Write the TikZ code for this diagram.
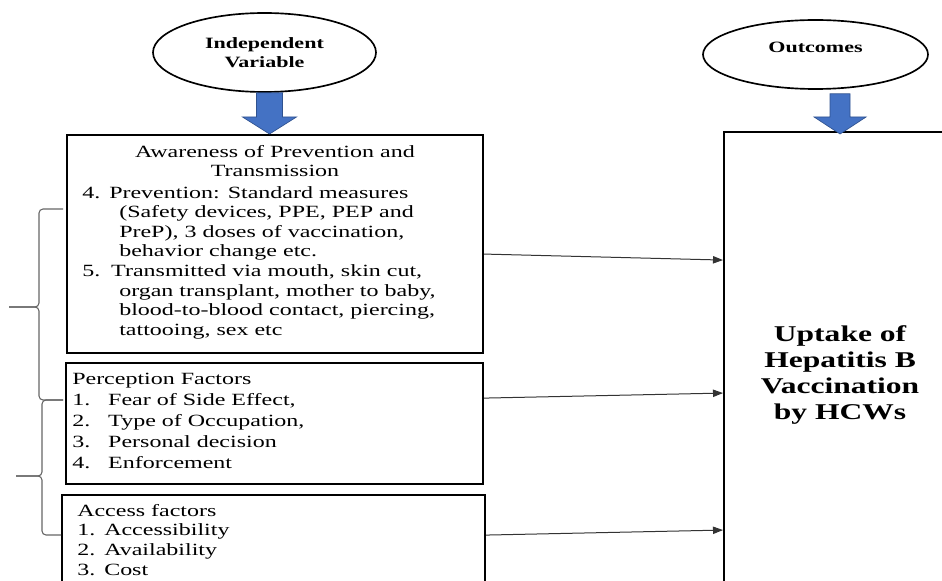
\documentclass[tikz,border=0pt]{standalone}
\usepackage{fontspec}
\setmainfont{Liberation Serif}[FakeStretch=1.4]
\usetikzlibrary{arrows.meta, calc, shapes.geometric}

\newcommand{\numlbl}[2]{\makebox[#1][l]{#2}}

\begin{document}
\begin{tikzpicture}[
    x=0.75pt, y=-0.75pt,
    every node/.style={inner sep=0pt, text=black},
    oval/.style={ellipse, draw=black, line width=1.25pt,
                 font=\bfseries\fontsize{11.8}{14.25}\selectfont, align=center},
    frame/.style={draw=black, line width=1.6pt, anchor=north west},
    listtext/.style={anchor=north west, align=left,
                     font=\fontsize{12.85}{14.7}\selectfont},
    link/.style={-{Triangle[length=7.5pt, width=5.5pt]}, line width=0.75pt, draw=black!80},
    bracket/.style={draw=black!60, line width=0.8pt, rounded corners=3pt},
]

\definecolor{blockfill}{HTML}{4472C4}
\definecolor{blockline}{HTML}{2F528F}

\def\ind{27.75pt}   % hanging indent of the wrapped items

\useasboundingbox (0,0) rectangle (942,581);
\clip (0,0) rectangle (942,581);

% ---------------------------------------------------------------- ovals
\node[oval, minimum width=167.25pt, minimum height=59.25pt] (indep)
    at (264.5,52.5) {Independent\\Variable};
\node[oval, minimum width=168.75pt, minimum height=51.75pt,
      text depth=11.25pt] (outcome) at (815.5,54.5) {Outcomes};

% ---------------------------------------------------------------- boxes
\node[frame, minimum width=312pt, minimum height=163.5pt] (aware) at (66,134) {};
\node[frame, minimum width=312.75pt, minimum height=90.75pt] (percep) at (65,362) {};
\node[frame, minimum width=317.25pt, minimum height=79.5pt] (access) at (61,494) {};

% the outcome box runs off the page at the right and at the bottom
\node[frame, minimum width=174pt, minimum height=364.5pt, align=center,
      font=\bfseries\fontsize{16.9}{19.3}\selectfont] (uptake) at (723,131)
    {Uptake of\\Hepatitis B\\Vaccination\\by HCWs};

% ---------------------------------------------------------------- box texts
\node[listtext, anchor=north, align=center] (awhead) at (275,145)
    {Awareness of Prevention and\\Transmission};
\node[listtext] (awlist) at (82,186)
    {\numlbl{20.25pt}{4.}Prevention: Standard measures\\
     \hspace*{\ind}(Safety devices, PPE, PEP and\\
     \hspace*{\ind}PreP), 3 doses of vaccination,\\
     \hspace*{\ind}behavior change etc.\\
     \numlbl{21.75pt}{5.}Transmitted via mouth, skin cut,\\
     \hspace*{\ind}organ transplant, mother to baby,\\
     \hspace*{\ind}blood-to-blood contact, piercing,\\
     \hspace*{\ind}tattooing, sex etc};

\node[listtext, font=\fontsize{12.85}{15.75}\selectfont] (perlist) at (72,372.5)
    {Perception Factors\\
     \numlbl{27pt}{1.}Fear of Side Effect,\\
     \numlbl{27pt}{2.}Type of Occupation,\\
     \numlbl{27pt}{3.}Personal decision\\
     \numlbl{27pt}{4.}Enforcement};

\node[listtext] (acclist) at (77,504)
    {Access factors\\
     \numlbl{20.25pt}{1.}Accessibility\\
     \numlbl{20.25pt}{2.}Availability\\
     \numlbl{20.25pt}{3.}Cost};

% ---------------------------------------------------------------- block arrows
\fill[blockfill, draw=blockline, line width=0.5pt]
    let \p1=($(indep.south)+(5,0)$), \p2=(aware.north) in
    (\x1-9.75pt,\y1) -- (\x1+9.75pt,\y1) -- (\x1+9.75pt,\y2+12.75pt)
    -- (\x1+20.25pt,\y2+12.75pt) -- (\x1,\y2) -- (\x1-20.25pt,\y2+12.75pt)
    -- (\x1-9.75pt,\y2+12.75pt) -- cycle;

\fill[blockfill, draw=blockline, line width=0.5pt]
    let \p1=($(outcome.south -| uptake.north)+(0,4)$),
        \p2=($(uptake.north)+(0,3)$) in
    (\x1-7.5pt,\y1) -- (\x1+7.5pt,\y1) -- (\x1+7.5pt,\y2+12.75pt)
    -- (\x1+19.5pt,\y2+12.75pt) -- (\x1,\y2) -- (\x1-19.5pt,\y2+12.75pt)
    -- (\x1-7.5pt,\y2+12.75pt) -- cycle;

% ---------------------------------------------------------------- links
\draw[link] ([yshift=-7.5pt]aware.east) -- ([yshift=86.25pt]uptake.west);
\draw[link] ([yshift=19.1pt]percep.east) -- ([yshift=-13.5pt]uptake.west);
\draw[link] ([yshift=9.75pt]access.east) -- ([yshift=-116.25pt]uptake.west);

% ---------------------------------------------------------------- braces
\draw[bracket] (63,209) -- (39,209) -- (39,307) -- (9,307);
\draw[bracket] (9,307) -- (39,307) -- (39,400) -- (63,400);
\draw[bracket] (63,400) -- (42,400) -- (42,476) -- (16,476);
\draw[bracket] (16,476) -- (42,476) -- (42,535) -- (61,535);

\end{tikzpicture}
\end{document}
